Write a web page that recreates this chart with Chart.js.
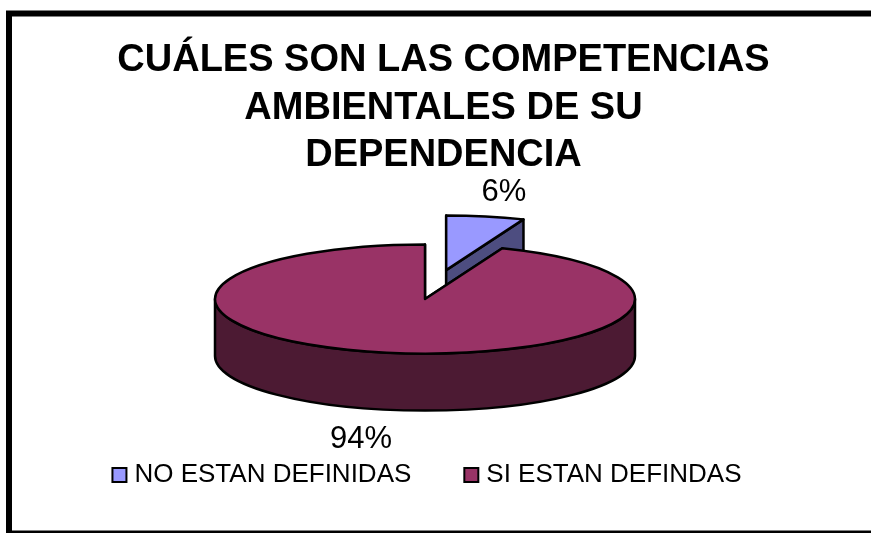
<!DOCTYPE html>
<html>
<head>
<meta charset="utf-8">
<title>Competencias ambientales</title>
<script src="https://cdn.jsdelivr.net/npm/chart.js@4"></script>
<style>
  html, body { margin: 0; padding: 0; background: #fff; }
  #wrap { width: 871px; height: 533px; }
</style>
</head>
<body>
<div id="wrap"><canvas id="chart"></canvas></div>
<script>
const categories = ['NO ESTAN DEFINIDAS', 'SI ESTAN DEFINDAS'];
const percentages = [6, 94];
const titleLines = ['CUÁLES SON LAS COMPETENCIAS', 'AMBIENTALES DE SU', 'DEPENDENCIA'];

const sliceColors = ['#9999ff', '#993366'];
const wallColors = ['#4d4d80', '#4c1a33'];

// pie geometry: the flattened 3D look of the original
const PIE_X = 425, PIE_Y = 299, PIE_RADIUS = 210;
const SQUASH = 0.26, DEPTH = 57;
const EXPLODE = [113, 0];
const LABEL_POS = [[504, 192], [361, 439]];

const pie3d = {
  id: 'pie3d',
  afterLayout(chart) {
    chart.titleBlock.left += 8;
    chart.titleBlock.right += 8;
    chart.legend.left -= 6;
    chart.legend.right -= 6;
    chart.legend.top -= 35;
    chart.legend.bottom -= 35;
  },
  beforeDraw(chart) {
    const ctx = chart.ctx;
    ctx.save();
    ctx.strokeStyle = '#000';
    ctx.lineWidth = 6;
    ctx.strokeRect(9, 13.5, 880, 520);
    ctx.restore();
  },
  beforeDatasetsDraw(chart) {
    const ctx = chart.ctx;
    const arcs = chart.getDatasetMeta(0).data;
    arcs.forEach((arc, i) => {
      const mid = (arc.startAngle + arc.endAngle) / 2;
      const cx = PIE_X + Math.cos(mid) * EXPLODE[i];
      const cy = PIE_Y + Math.sin(mid) * EXPLODE[i] * SQUASH;
      const r = arc.outerRadius;
      const ry = r * SQUASH;
      const px = a => cx + Math.cos(a) * r;
      const py = a => cy + Math.sin(a) * ry;

      ctx.save();
      ctx.lineWidth = 2.5;
      ctx.strokeStyle = '#000';
      ctx.lineJoin = 'round';
      ctx.fillStyle = wallColors[i];

      // cut edges of the slice pushed down
      [arc.startAngle, arc.endAngle].forEach(a => {
        ctx.beginPath();
        ctx.moveTo(cx, cy);
        ctx.lineTo(px(a), py(a));
        ctx.lineTo(px(a), py(a) + DEPTH);
        ctx.lineTo(cx, cy + DEPTH);
        ctx.closePath();
        ctx.fill();
        ctx.stroke();
      });

      // round wall, only the part facing the viewer
      [0, Math.PI * 2].forEach(turn => {
        const from = Math.max(arc.startAngle, turn);
        const to = Math.min(arc.endAngle, turn + Math.PI);
        if (to <= from) return;
        ctx.beginPath();
        ctx.ellipse(cx, cy, r, ry, 0, from, to);
        ctx.lineTo(px(to), py(to) + DEPTH);
        ctx.ellipse(cx, cy + DEPTH, r, ry, 0, to, from, true);
        ctx.closePath();
        ctx.fill();
        ctx.stroke();
      });

      // the top of the slice is the library's own arc, flattened
      ctx.save();
      ctx.translate(cx, cy);
      ctx.scale(1, SQUASH);
      ctx.translate(-arc.x, -arc.y);
      arc.draw(ctx);
      ctx.restore();

      ctx.beginPath();
      ctx.moveTo(cx, cy);
      ctx.ellipse(cx, cy, r, ry, 0, arc.startAngle, arc.endAngle);
      ctx.closePath();
      ctx.stroke();
      ctx.restore();
    });

    // percent labels
    ctx.save();
    ctx.fillStyle = '#000';
    ctx.font = '31px "Liberation Sans"';
    ctx.textAlign = 'center';
    ctx.textBaseline = 'middle';
    percentages.forEach((v, i) => {
      ctx.fillText(v + '%', LABEL_POS[i][0], LABEL_POS[i][1]);
    });
    ctx.restore();
    return false;
  }
};

new Chart(document.getElementById('chart'), {
  type: 'pie',
  data: {
    labels: categories,
    datasets: [{ data: percentages, backgroundColor: sliceColors, borderWidth: 0 }]
  },
  options: {
    responsive: true,
    maintainAspectRatio: false,
    animation: false,
    radius: PIE_RADIUS,
    plugins: {
      title: {
        display: true,
        text: titleLines,
        color: '#000',
        font: { family: '"Liberation Sans"', size: 38, weight: 'bold', lineHeight: 1.25 },
        padding: { top: 37, bottom: 0 }
      },
      legend: {
        position: 'bottom',
        labels: {
          color: '#000',
          font: { family: '"Liberation Sans"', size: 26 },
          usePointStyle: true,
          boxWidth: 4,
          boxHeight: 14,
          padding: 58,
          generateLabels(chart) {
            return categories.map((c, i) => ({
              text: c,
              fillStyle: sliceColors[i],
              strokeStyle: '#000',
              lineWidth: 2,
              pointStyle: 'rect',
              index: i
            }));
          }
        }
      },
      tooltip: { enabled: false }
    }
  },
  plugins: [pie3d]
});
</script>
</body>
</html>
